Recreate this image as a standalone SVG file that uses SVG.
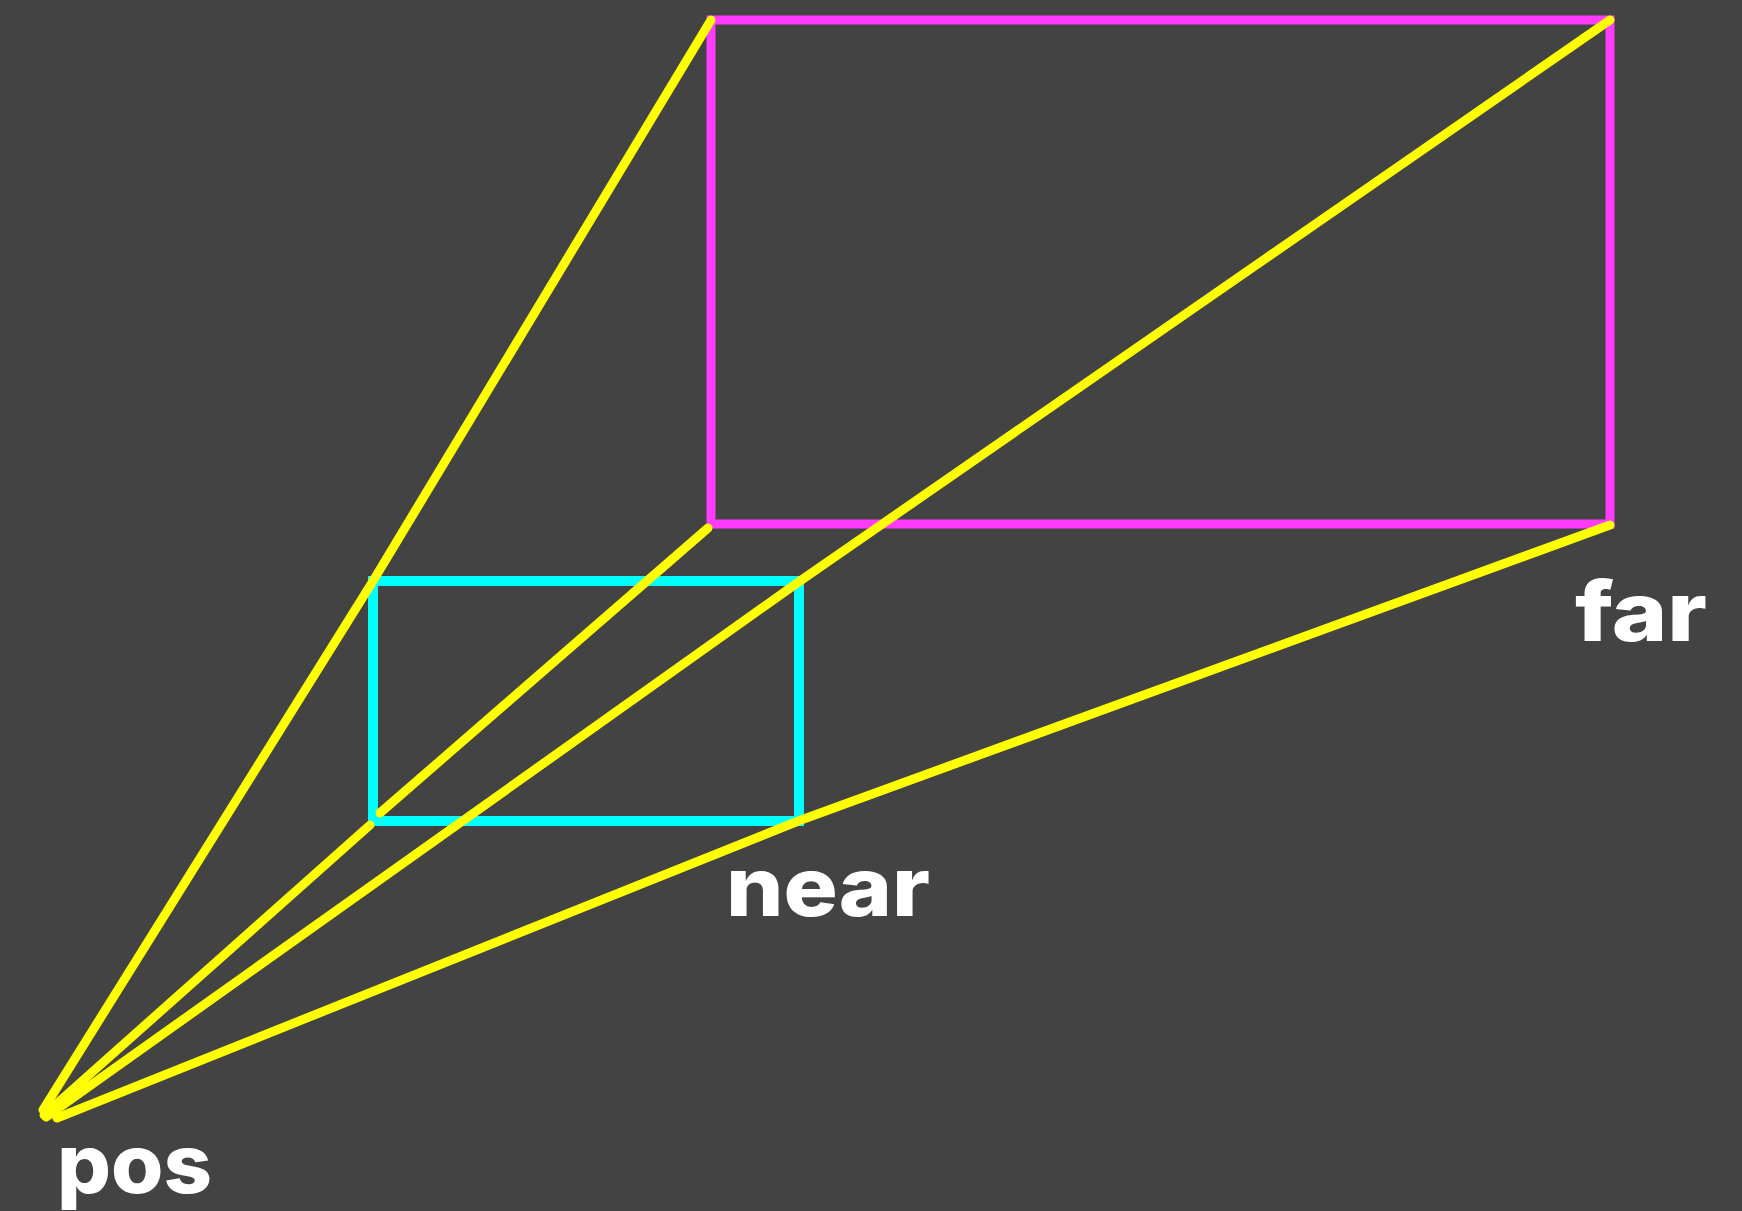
<svg xmlns="http://www.w3.org/2000/svg" width="1742" height="1211" viewBox="0 0 1742 1211">
<style>
.bg{fill:#434343}
.far{fill:none;stroke:#ff3cff;stroke-width:9}
.near{fill:none;stroke:#00ffff;stroke-width:10}
.ray{fill:none;stroke:#ffff00;stroke-width:9;stroke-linecap:round;stroke-linejoin:round}
.lbl{fill:#ffffff;font-family:Inter,"Open Sans","Liberation Sans",sans-serif;font-weight:800;font-size:82px}
</style>
<rect class="bg" x="0" y="0" width="1742" height="1211"/>
<g id="far-plane">
<rect class="far" x="711" y="20" width="899" height="504"/>
</g>
<g id="near-plane">
<rect class="near" x="373" y="581" width="426" height="240"/>
</g>
<g id="connectors">
<polyline class="ray" points="711,20 373,581 43,1110"/>
<polyline class="ray" points="1610,20 800,581 46,1117"/>
<line class="ray" x1="708" y1="528" x2="380" y2="813"/>
<line class="ray" x1="370" y1="825" x2="44" y2="1115"/>
<polyline class="ray" points="1610,525 801,820 57,1118"/>
</g>
<g id="label-pos"><text class="lbl" x="57" y="1193" textLength="155" lengthAdjust="spacingAndGlyphs">pos</text></g>
<g id="label-near"><text class="lbl" x="726" y="916" textLength="204" lengthAdjust="spacingAndGlyphs">near</text></g>
<g id="label-far"><text class="lbl" x="1575" y="641" textLength="132" lengthAdjust="spacingAndGlyphs">far</text></g>
</svg>
